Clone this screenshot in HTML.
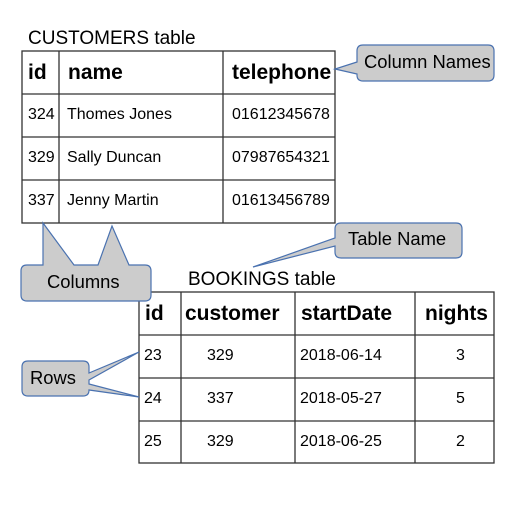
<!DOCTYPE html>
<html><head><meta charset="utf-8"><style>
body{margin:0;background:#fff;width:530px;height:505px;overflow:hidden}
svg{display:block}
text{font-family:"Liberation Sans",sans-serif;fill:#000}
.h{font-weight:bold;font-size:21px}
.d{font-size:16px}
</style></head><body>
<svg width="530" height="505" viewBox="0 0 530 505">
<g stroke="#333" stroke-width="1.3" fill="none">
<rect x="22" y="51" width="313" height="172"/>
<line x1="59" y1="51" x2="59" y2="223"/><line x1="223" y1="51" x2="223" y2="223"/>
<line x1="22" y1="94" x2="335" y2="94"/><line x1="22" y1="137" x2="335" y2="137"/><line x1="22" y1="180" x2="335" y2="180"/>
<rect x="139" y="292" width="355" height="171"/>
<line x1="181" y1="292" x2="181" y2="463"/><line x1="295" y1="292" x2="295" y2="463"/><line x1="415" y1="292" x2="415" y2="463"/>
<line x1="139" y1="335" x2="494" y2="335"/><line x1="139" y1="378" x2="494" y2="378"/><line x1="139" y1="421" x2="494" y2="421"/>
</g>
<text x="28" y="44" style="font-size:19px">CUSTOMERS table</text>
<text x="28" y="79" class="h">id</text><text x="68" y="79" class="h">name</text><text x="232" y="79" class="h">telephone</text>
<text x="28" y="119" class="d">324</text><text x="67" y="119" class="d">Thomes Jones</text><text x="232" y="119" class="d">01612345678</text>
<text x="28" y="162" class="d">329</text><text x="67" y="162" class="d">Sally Duncan</text><text x="232" y="162" class="d">07987654321</text>
<text x="28" y="205" class="d">337</text><text x="67" y="205" class="d">Jenny Martin</text><text x="232" y="205" class="d">01613456789</text>
<text x="188" y="285" style="font-size:19px">BOOKINGS table</text>
<text x="145" y="320" class="h">id</text><text x="185" y="320" class="h">customer</text><text x="301" y="320" class="h">startDate</text><text x="425" y="320" class="h">nights</text>
<text x="144" y="360" class="d">23</text><text x="207" y="360" class="d">329</text><text x="300" y="360" class="d">2018-06-14</text><text x="456" y="360" class="d">3</text>
<text x="144" y="403" class="d">24</text><text x="207" y="403" class="d">337</text><text x="300" y="403" class="d">2018-05-27</text><text x="456" y="403" class="d">5</text>
<text x="144" y="446" class="d">25</text><text x="207" y="446" class="d">329</text><text x="300" y="446" class="d">2018-06-25</text><text x="456" y="446" class="d">2</text>
<g fill="#cccccc" stroke="#4a72b0" stroke-width="1.2">
<path d="M363,45 L488,45 Q494,45 494,51 L494,75 Q494,81 488,81 L363,81 Q357,81 357,75 L357,74 L335,69 L357,62 L357,51 Q357,45 363,45 Z"/>
<path d="M341,223 L456,223 Q462,223 462,229 L462,252 Q462,258 456,258 L341,258 Q335,258 335,252 L335,246 L253,267 L335,238 L335,229 Q335,223 341,223 Z"/>
<path d="M27,265 L43,265 L43,223 L74,265 L98,265 L112,226 L129,265 L145,265 Q151,265 151,271 L151,295 Q151,301 145,301 L27,301 Q21,301 21,295 L21,271 Q21,265 27,265 Z"/>
<path d="M28,361 L83,361 Q89,361 89,367 L89,373 L139,352 L89,380 L89,384 L139,397 L89,390 L89,390 Q89,396 83,396 L28,396 Q22,396 22,390 L22,367 Q22,361 28,361 Z"/>
</g>
<text x="364" y="68" style="font-size:18.4px">Column Names</text>
<text x="348" y="245" style="font-size:18.4px">Table Name</text>
<text x="47" y="288" style="font-size:18.4px">Columns</text>
<text x="30" y="384" style="font-size:18.4px">Rows</text>
</svg>
</body></html>
